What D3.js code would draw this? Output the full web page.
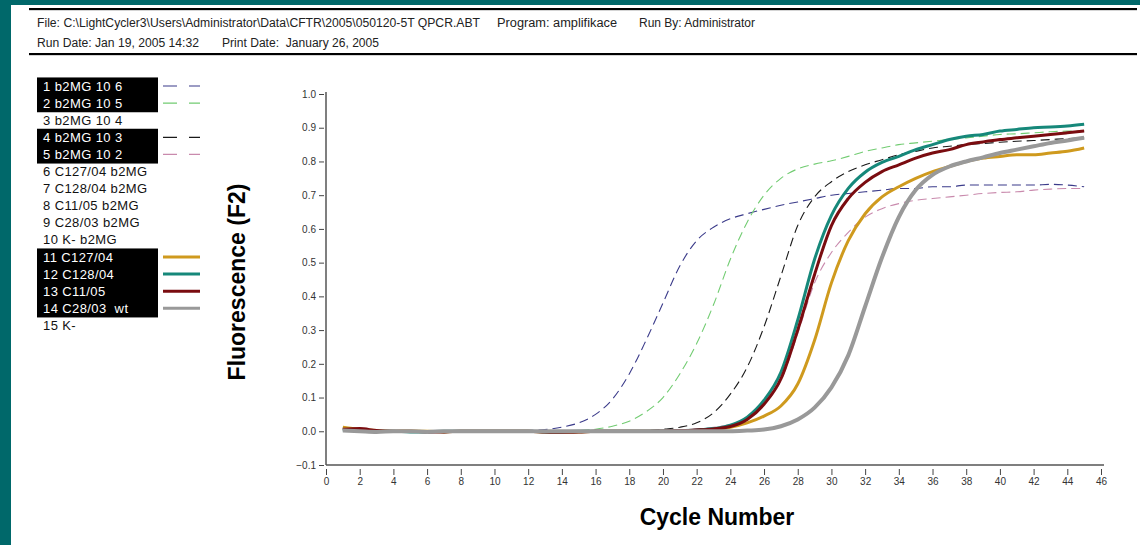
<!DOCTYPE html>
<html>
<head>
<meta charset="utf-8">
<script src="https://cdn.jsdelivr.net/npm/d3@7"></script>
<style>
  html, body { margin: 0; padding: 0; background: #00686a; }
  svg { display: block; }
  text { font-family: "Liberation Sans", Arial, sans-serif; }
</style>
</head>
<body>
<div id="chart"></div>
<script>
const cycles = d3.range(1, 46);

const sampleNames = [
    "1 b2MG 10 6", "2 b2MG 10 5", "3 b2MG 10 4", "4 b2MG 10 3", "5 b2MG 10 2",
    "6 C127/04 b2MG", "7 C128/04 b2MG", "8 C11/05 b2MG", "9 C28/03 b2MG", "10 K- b2MG",
    "11 C127/04", "12 C128/04", "13 C11/05", "14 C28/03  wt", "15 K-"
];
const selectedSamples = [1, 2, 4, 5, 11, 12, 13, 14];

const yTicks = [-0.1, 0, 0.1, 0.2, 0.3, 0.4, 0.5, 0.6, 0.7, 0.8, 0.9, 1.0];
const xTicks = d3.range(0, 47, 2);

// une valeur par cycle (1..45)
const s1 = [0.008, 0.002, -0.002, 0.000, 0.001, -0.003, 0.000, -0.001, 0.000, 0.000,
            0.000, 0.002, 0.005, 0.012, 0.025, 0.050, 0.095, 0.170, 0.270, 0.380,
            0.490, 0.565, 0.605, 0.630, 0.645, 0.658, 0.670, 0.680, 0.690, 0.700,
            0.705, 0.710, 0.715, 0.720, 0.720, 0.725, 0.725, 0.730, 0.730, 0.730,
            0.730, 0.730, 0.732, 0.730, 0.725];
const s2 = [0.010, 0.005, 0.000, 0.001, 0.000, -0.002, 0.000, 0.000, 0.000, -0.001,
            0.000, 0.000, 0.000, 0.000, 0.002, 0.006, 0.015, 0.030, 0.058, 0.100,
            0.170, 0.260, 0.375, 0.510, 0.620, 0.700, 0.750, 0.778, 0.792, 0.802,
            0.815, 0.830, 0.840, 0.850, 0.855, 0.860, 0.865, 0.870, 0.875, 0.880,
            0.882, 0.885, 0.888, 0.890, 0.890];
const s4 = [0.005, 0.000, -0.003, 0.000, -0.002, 0.000, -0.004, -0.002, 0.000, 0.000,
            -0.002, 0.000, -0.003, -0.002, 0.000, 0.000, 0.000, 0.001, 0.002, 0.006,
            0.012, 0.025, 0.055, 0.110, 0.190, 0.310, 0.460, 0.610, 0.695, 0.740,
            0.770, 0.790, 0.805, 0.820, 0.830, 0.840, 0.845, 0.850, 0.853, 0.857,
            0.860, 0.862, 0.865, 0.868, 0.870];
const s5 = [0.006, 0.003, 0.000, -0.002, 0.000, 0.000, -0.002, 0.000, 0.000, 0.000,
            0.000, -0.002, 0.000, 0.000, 0.000, 0.000, 0.000, 0.000, 0.001, 0.002,
            0.004, 0.007, 0.012, 0.020, 0.040, 0.080, 0.150, 0.290, 0.440, 0.530,
            0.590, 0.635, 0.660, 0.675, 0.685, 0.690, 0.695, 0.700, 0.705, 0.708,
            0.710, 0.715, 0.718, 0.720, 0.720];
const s11 = [0.012, 0.006, 0.002, 0.000, 0.001, 0.000, -0.002, 0.000, 0.000, 0.000,
             0.000, 0.000, -0.002, -0.003, -0.002, 0.000, 0.000, 0.000, 0.000, 0.000,
             0.001, 0.002, 0.005, 0.012, 0.025, 0.045, 0.075, 0.140, 0.270, 0.440,
             0.565, 0.645, 0.695, 0.725, 0.750, 0.770, 0.785, 0.800, 0.810, 0.815,
             0.820, 0.820, 0.825, 0.830, 0.840];
const s12 = [0.004, 0.002, 0.000, 0.000, -0.002, -0.002, 0.000, 0.000, 0.000, 0.000,
             0.000, 0.000, -0.002, -0.002, 0.000, 0.000, 0.000, 0.000, 0.000, 0.001,
             0.002, 0.004, 0.008, 0.018, 0.042, 0.092, 0.175, 0.330, 0.510, 0.640,
             0.720, 0.768, 0.797, 0.815, 0.835, 0.850, 0.865, 0.875, 0.880, 0.890,
             0.895, 0.900, 0.902, 0.905, 0.910];
const s13 = [0.006, 0.008, 0.002, 0.000, 0.000, -0.002, -0.002, 0.000, 0.000, 0.000,
             0.000, 0.000, -0.002, -0.003, -0.002, 0.000, 0.000, 0.000, 0.000, 0.001,
             0.002, 0.004, 0.007, 0.014, 0.035, 0.080, 0.155, 0.300, 0.465, 0.610,
             0.690, 0.738, 0.770, 0.790, 0.810, 0.825, 0.835, 0.850, 0.858, 0.865,
             0.870, 0.875, 0.880, 0.885, 0.890];
const s14 = [0.002, 0.000, -0.002, 0.000, 0.000, -0.002, 0.000, 0.000, 0.000, 0.000,
             0.000, 0.000, 0.000, 0.000, 0.000, 0.000, 0.000, 0.000, 0.000, 0.000,
             0.000, 0.000, 0.000, 0.000, 0.002, 0.005, 0.015, 0.035, 0.070, 0.130,
             0.225, 0.370, 0.515, 0.635, 0.715, 0.760, 0.785, 0.800, 0.812, 0.825,
             0.835, 0.845, 0.855, 0.862, 0.870];

const seriesIds = [1, 2, 4, 5, 11, 12, 13, 14];
const seriesValues = [s1, s2, s4, s5, s11, s12, s13, s14];
const seriesColors = ["#3b3b8a", "#72cc72", "#1a1a1a", "#c98aad", "#cf9a1e", "#16887a", "#7a0c10", "#999999"];
const seriesDashed = [true, true, true, true, false, false, false, false];
const seriesWidths = [1.1, 1.1, 1.1, 1.1, 3, 3, 3, 4];

(function() {
    const width = 1140, height = 545;

    const svg = d3.select("#chart").append("svg")
        .attr("width", width)
        .attr("height", height);

    // fond blanc de la "page"
    svg.append("rect")
        .attr("x", 11).attr("y", 5)
        .attr("width", width - 11).attr("height", height - 5)
        .attr("fill", "#ffffff");

    // En-tête
    [9, 54].forEach(y => {
        svg.append("line")
            .attr("x1", 29).attr("x2", 1137)
            .attr("y1", y + 1).attr("y2", y + 1)
            .attr("stroke", "#aaa").attr("stroke-width", 1);
        svg.append("line")
            .attr("x1", 29).attr("x2", 1137)
            .attr("y1", y).attr("y2", y)
            .attr("stroke", "#000").attr("stroke-width", 2);
    });

    // texte d'en-tête : [texte, x, y, largeur]
    const headerItems = [
        ["File: C:\\LightCycler3\\Users\\Administrator\\Data\\CFTR\\2005\\050120-5T QPCR.ABT", 37, 27, 443],
        ["Program: amplifikace", 497, 27, 120],
        ["Run By: Administrator", 639, 27, 116],
        ["Run Date: Jan 19, 2005 14:32", 37, 47, 162],
        ["Print Date:  January 26, 2005", 222, 47, 157]
    ];
    const header = svg.append("g")
        .attr("font-size", 12)
        .attr("fill", "#222");
    headerItems.forEach(([t, hx, hy, w]) => {
        header.append("text")
            .attr("x", hx).attr("y", hy)
            .attr("textLength", w)
            .attr("lengthAdjust", "spacingAndGlyphs")
            .style("white-space", "pre")
            .text(t);
    });

    // Légende
    const rowH = 17.1, row0 = 86;
    const legend = svg.append("g");
    sampleNames.forEach((name, i) => {
        const id = i + 1;
        const cy = row0 + i * rowH;
        const sel = selectedSamples.includes(id);
        if (sel) {
            legend.append("rect")
                .attr("x", 37).attr("y", cy - rowH / 2)
                .attr("width", 121).attr("height", rowH + 0.6)
                .attr("fill", "#000");
        }
        legend.append("text")
            .attr("x", 43).attr("y", cy)
            .attr("dy", "0.35em")
            .attr("font-size", 13)
            .attr("letter-spacing", 0.4)
            .attr("fill", sel ? "#fff" : "#111")
            .style("white-space", "pre")
            .text(name);
        const k = seriesIds.indexOf(id);
        if (k >= 0) {
            legend.append("line")
                .attr("x1", 163).attr("x2", 200)
                .attr("y1", cy).attr("y2", cy)
                .attr("stroke", seriesColors[k])
                .attr("stroke-width", seriesDashed[k] ? 1.2 : 3)
                .attr("stroke-dasharray", seriesDashed[k] ? "14,12" : null);
        }
    });

    // Échelles
    const x = d3.scaleLinear().domain([0, 46]).range([326, 1101]);
    const y = d3.scaleLinear().domain([-0.1, 1.0]).range([465, 94]);

    // Axes
    svg.append("line")
        .attr("x1", 326).attr("x2", 326)
        .attr("y1", 92).attr("y2", 465)
        .attr("stroke", "#555").attr("stroke-width", 1.5);
    svg.append("line")
        .attr("x1", 326).attr("x2", 1104)
        .attr("y1", 465).attr("y2", 465)
        .attr("stroke", "#555").attr("stroke-width", 1.5);

    const yAxis = svg.append("g")
        .attr("transform", "translate(324,0)")
        .call(d3.axisLeft(y).tickValues(yTicks).tickSize(5).tickPadding(3)
            .tickFormat(d3.format(".1f")));
    yAxis.select(".domain").remove();
    yAxis.selectAll("line").attr("stroke", "#444");
    yAxis.selectAll("text").attr("font-size", 10).attr("fill", "#333")
        .attr("font-family", "'Liberation Sans', Arial, sans-serif");

    const xAxis = svg.append("g")
        .attr("transform", "translate(0,469)")
        .call(d3.axisBottom(x).tickValues(xTicks).tickSize(6).tickPadding(3)
            .tickFormat(d3.format("d")));
    xAxis.select(".domain").remove();
    xAxis.selectAll("line").attr("stroke", "#444");
    xAxis.selectAll("text").attr("font-size", 10).attr("fill", "#333")
        .attr("font-family", "'Liberation Sans', Arial, sans-serif");

    // Titres des axes
    svg.append("text")
        .attr("transform", "translate(245,282) rotate(-90)")
        .attr("text-anchor", "middle")
        .attr("font-size", 23)
        .attr("font-weight", "bold")
        .attr("fill", "#000")
        .text("Fluorescence (F2)");
    svg.append("text")
        .attr("x", 717).attr("y", 525)
        .attr("text-anchor", "middle")
        .attr("font-size", 23)
        .attr("font-weight", "bold")
        .attr("fill", "#000")
        .text("Cycle Number");

    // Courbes
    const line = d3.line()
        .x((d, i) => x(cycles[i]))
        .y(d => y(d))
        .curve(d3.curveMonotoneX);

    const curves = svg.append("g").attr("fill", "none");
    seriesValues.forEach((vals, k) => {
        curves.append("path")
            .attr("d", line(vals))
            .attr("stroke", seriesColors[k])
            .attr("stroke-width", seriesWidths[k])
            .attr("stroke-dasharray", seriesDashed[k] ? "9,5" : null)
            .attr("stroke-linejoin", "round");
    });
})();
</script>
</body>
</html>
